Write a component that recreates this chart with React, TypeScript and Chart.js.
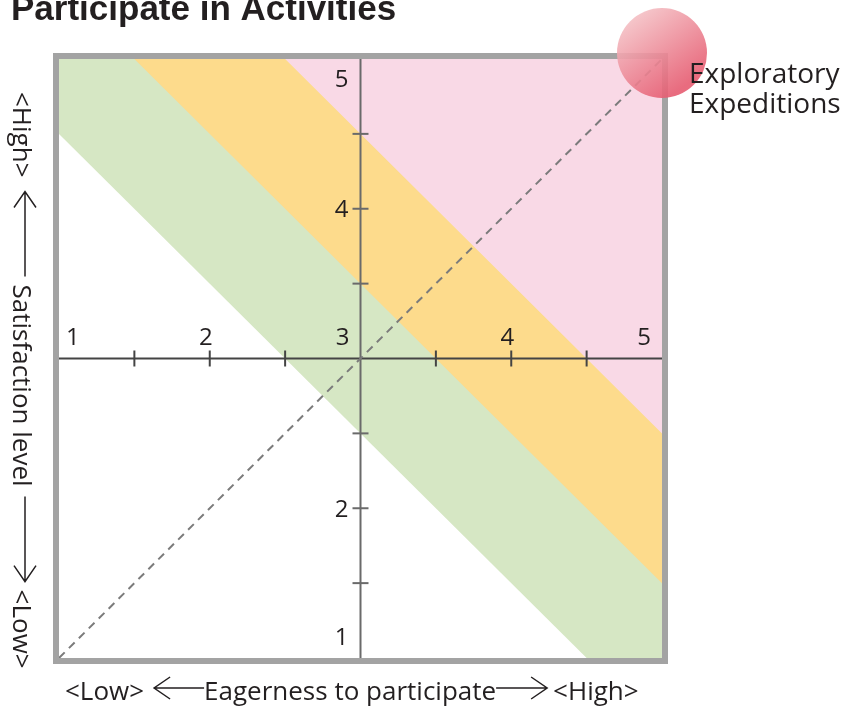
import React, { useEffect, useRef } from "react";
import { Chart, registerables } from "chart.js";

Chart.register(...registerables);

// ---- data ----
const chartTitle = "Participate in Activities";
const xTitleParts = ["<Low>", "Eagerness to participate", "<High>"];
const yTitleParts = ["<High>", "Satisfaction level", "<Low>"];
const axisRange = [1, 5];
const axisCross = 3;
const majorTicks = [1, 2, 3, 4, 5];
const xTickLabels = ["1", "2", "3", "4", "5"];
const yTickLabels = ["1", "2", "", "4", "5"];
const tickMarks = [1.5, 2, 2.5, 3.5, 4, 4.5];
const greenLowerEdge = [
  { x: 1, y: 4.5 },
  { x: 5, y: 0.5 },
];
const orangeLowerEdge = [
  { x: 1, y: 5.5 },
  { x: 5, y: 1.5 },
];
const pinkLowerEdge = [
  { x: 1, y: 6.5 },
  { x: 5, y: 2.5 },
];
const diagonalLine = [
  { x: 1, y: 1 },
  { x: 5, y: 5 },
];
const highlightPoint = [{ x: 5, y: 5.04, r: 45 }];
const highlightLabel = ["Exploratory", "Expeditions"];

// ---- styles ----
const TEXT = "#231f20";
const GREEN = "#d6e7c4";
const ORANGE = "#fddb8c";
const PINK = "#f9d9e6";
const FONT = '"Open Sans", "Noto Sans", sans-serif';

type Item = { t?: string; a?: number; dir?: number; g?: number };

function drawRow(ctx: CanvasRenderingContext2D, x0: number, base: number, items: Item[]) {
  let x = x0;
  ctx.textAlign = "left";
  ctx.textBaseline = "alphabetic";
  for (const it of items) {
    if (it.t !== undefined) {
      ctx.fillText(it.t, x, base);
      x += ctx.measureText(it.t).width;
    } else if (it.a !== undefined) {
      const y = base - 12;
      const x1 = x + it.a;
      ctx.beginPath();
      ctx.moveTo(x, y);
      ctx.lineTo(x1, y);
      const hx = it.dir! < 0 ? x : x1;
      const s = it.dir! < 0 ? 1 : -1;
      ctx.moveTo(hx + s * 16, y - 11);
      ctx.lineTo(hx, y);
      ctx.lineTo(hx + s * 16, y + 11);
      ctx.stroke();
      x = x1;
    } else if (it.g !== undefined) {
      x += it.g;
    }
  }
}

const decor = {
  id: "decor",
  beforeDatasetsDraw(chart: any) {
    const { ctx, chartArea: a, scales } = chart;
    const xs = scales.x;
    const ys = scales.y;
    ctx.save();
    // frame
    ctx.strokeStyle = "#a3a3a3";
    ctx.lineWidth = 6;
    ctx.strokeRect(a.left - 3, a.top - 3, a.right - a.left + 6, a.bottom - a.top + 6);

    const cx = xs.getPixelForValue(axisCross);
    const cy = ys.getPixelForValue(axisCross);
    const seg = (x0: number, y0: number, x1: number, y1: number) => {
      ctx.beginPath();
      ctx.moveTo(x0, y0);
      ctx.lineTo(x1, y1);
      ctx.stroke();
    };
    // horizontal axis
    ctx.strokeStyle = "#444444";
    ctx.lineWidth = 2;
    seg(a.left, cy, a.right, cy);
    tickMarks.forEach((v) => {
      const px = xs.getPixelForValue(v);
      seg(px, cy - 8, px, cy + 8);
    });
    // vertical axis
    ctx.strokeStyle = "#6a6a6a";
    seg(cx, a.top, cx, a.bottom);
    tickMarks.forEach((v) => {
      const py = ys.getPixelForValue(v);
      seg(cx - 8, py, cx + 8, py);
    });

    // tick labels
    ctx.fillStyle = TEXT;
    ctx.font = `24px ${FONT}`;
    ctx.textBaseline = "alphabetic";
    majorTicks.forEach((v, i) => {
      const lbl = xTickLabels[i];
      if (!lbl) return;
      const px = xs.getPixelForValue(v);
      if (v === axisRange[0]) {
        ctx.textAlign = "left";
        ctx.fillText(lbl, px + 7, cy - 14);
      } else if (v === axisRange[1] || v === axisCross) {
        ctx.textAlign = "right";
        ctx.fillText(lbl, px - 11, cy - 14);
      } else {
        ctx.textAlign = "center";
        ctx.fillText(lbl, px - 4, cy - 14);
      }
    });
    majorTicks.forEach((v, i) => {
      const lbl = yTickLabels[i];
      if (!lbl) return;
      const py = ys.getPixelForValue(v);
      ctx.textAlign = "right";
      let base = py + 8.5;
      if (v === axisRange[1]) base = py + 28;
      if (v === axisRange[0]) base = py - 13;
      ctx.fillText(lbl, cx - 12, base);
    });
    ctx.restore();
  },
  afterDatasetsDraw(chart: any) {
    const { ctx, scales } = chart;
    ctx.save();
    ctx.fillStyle = TEXT;
    ctx.strokeStyle = TEXT;
    ctx.lineWidth = 1.5;

    // highlight label
    const p = highlightPoint[0];
    const bx = scales.x.getPixelForValue(p.x);
    const by = scales.y.getPixelForValue(p.y);
    ctx.font = `28px ${FONT}`;
    ctx.textAlign = "left";
    highlightLabel.forEach((s, i) => ctx.fillText(s, bx + 27, by + 30 + i * 30));

    // title
    ctx.font = 'bold 35px "Liberation Sans", Arial, sans-serif';
    ctx.fillText(chartTitle, 11, 20);

    // x axis title
    ctx.font = `26px ${FONT}`;
    drawRow(ctx, 65, 700, [
      { t: xTitleParts[0] },
      { g: 10 },
      { a: 50, dir: -1 },
      { t: xTitleParts[1] },
      { a: 51, dir: 1 },
      { g: 6 },
      { t: xTitleParts[2] },
    ]);

    // y axis title (rotated)
    ctx.save();
    ctx.translate(13, 92);
    ctx.rotate(Math.PI / 2);
    drawRow(ctx, 0, 0, [
      { t: yTitleParts[0] },
      { g: 14 },
      { a: 85, dir: -1 },
      { g: 8 },
      { t: yTitleParts[1] },
      { g: 10 },
      { a: 85, dir: 1 },
      { g: 8 },
      { t: yTitleParts[2] },
    ]);
    ctx.restore();
    ctx.restore();
  },
};

const BUBBLE_FALLBACK = "rgba(236,120,135,0.88)";

export default function App() {
  const ref = useRef<HTMLCanvasElement | null>(null);
  useEffect(() => {
    document.body.style.margin = "0";
    const canvas = ref.current!;
    const chart = new Chart(canvas, {
      type: "line",
      data: {
        datasets: [
          {
            type: "bubble",
            data: highlightPoint,
            backgroundColor: (c: any) => {
              if (c.type !== "data" || !c.raw) return BUBBLE_FALLBACK;
              const { x, y } = c.chart.scales;
              if (!x || !y) return BUBBLE_FALLBACK;
              const r = c.raw.r;
              const px = x.getPixelForValue(c.raw.x);
              const py = y.getPixelForValue(c.raw.y);
              if (!Number.isFinite(px) || !Number.isFinite(py)) return BUBBLE_FALLBACK;
              const g = c.chart.ctx.createLinearGradient(px - r * 0.7, py - r * 0.7, px + r * 0.4, py + r * 0.8);
              g.addColorStop(0, "rgba(244,190,195,0.9)");
              g.addColorStop(1, "rgba(230,92,113,0.9)");
              return g;
            },
            borderWidth: 0,
            clip: false,
          } as any,
          {
            type: "line",
            data: diagonalLine,
            borderColor: "#7b7b7b",
            borderWidth: 2,
            borderDash: [8, 6],
            pointRadius: 0,
            fill: false,
          },
          {
            type: "line",
            data: pinkLowerEdge,
            fill: "end",
            backgroundColor: PINK,
            borderWidth: 0,
            pointRadius: 0,
          },
          {
            type: "line",
            data: orangeLowerEdge,
            fill: "end",
            backgroundColor: ORANGE,
            borderWidth: 0,
            pointRadius: 0,
          },
          {
            type: "line",
            data: greenLowerEdge,
            fill: "end",
            backgroundColor: GREEN,
            borderWidth: 0,
            pointRadius: 0,
          },
        ],
      },
      options: {
        animation: false,
        responsive: false,
        events: [],
        layout: { padding: { left: 59, top: 59, right: 185, bottom: 51 } },
        scales: {
          x: { type: "linear", min: axisRange[0], max: axisRange[1], display: false },
          y: { type: "linear", min: axisRange[0], max: axisRange[1], display: false },
        },
        plugins: {
          legend: { display: false },
          tooltip: { enabled: false },
          filler: { drawTime: "beforeDatasetsDraw", propagate: false },
        } as any,
      },
      plugins: [decor],
    });
    return () => chart.destroy();
  }, []);
  return (
    <div style={{ width: 847, height: 709 }}>
      <canvas ref={ref} width={847} height={709} style={{ display: "block" }} />
    </div>
  );
}
